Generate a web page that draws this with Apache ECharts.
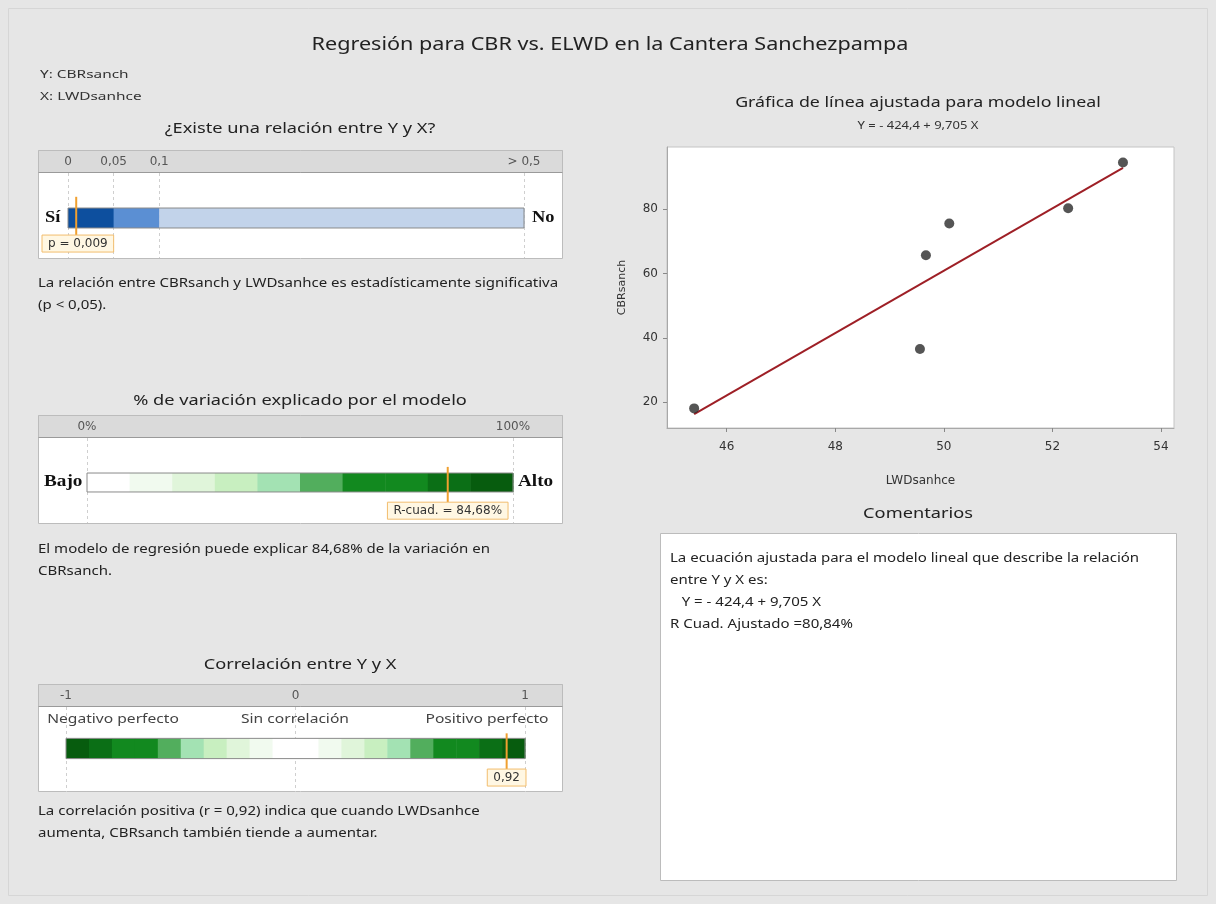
<!DOCTYPE html>
<html><head><meta charset="utf-8">
<script src="https://cdn.jsdelivr.net/npm/echarts@6/dist/echarts.min.js"></script>
<style>html,body{margin:0;padding:0;background:#e6e6e6}#c{width:1216px;height:904px}</style>
</head><body><div id="c"></div>
<script>
// ---------------- data ----------------
const mainTitle = 'Regresión para CBR vs. ELWD en la Cantera Sanchezpampa';
const yVarLabel = 'Y: CBRsanch';
const xVarLabel = 'X: LWDsanhce';

const pTitle = '¿Existe una relación entre Y y X?';
const pTicks = [0, 0.05, 0.1, 0.5];
const pTickLabels = ['0', '0,05', '0,1', '> 0,5'];
const pBandStarts = [0, 0.05, 0.1];
const pBandEnds = [0.05, 0.1, 0.5];
const pBandColors = ['#0d4f9e', '#5b8fd3', '#c2d3ea'];
const pValue = 0.009;
const pValueLabel = 'p = 0,009';
const pEnds = ['Sí', 'No'];
const pText = ['La relación entre CBRsanch y LWDsanhce es estadísticamente significativa', '(p < 0,05).'];

const r2Title = '% de variación explicado por el modelo';
const r2Ticks = [0, 100];
const r2TickLabels = ['0%', '100%'];
const r2BandStarts = [0, 10, 20, 30, 40, 50, 60, 70, 80, 90];
const r2BandEnds = [10, 20, 30, 40, 50, 60, 70, 80, 90, 100];
const greenShades = ['#ffffff', '#f1faef', '#e0f5da', '#c8efc0', '#a3e2b3', '#52ae5d', '#12891f', '#12891f', '#0b6f16', '#075c0e'];
const r2Value = 84.68;
const r2Label = 'R-cuad. = 84,68%';
const r2Ends = ['Bajo', 'Alto'];
const r2Text = ['El modelo de regresión puede explicar 84,68% de la variación en', 'CBRsanch.'];

const rTitle = 'Correlación entre Y y X';
const rTicks = [-1, 0, 1];
const rTickLabels = ['-1', '0', '1'];
const rBandStarts = [-1, -0.9, -0.8, -0.7, -0.6, -0.5, -0.4, -0.3, -0.2, -0.1, 0, 0.1, 0.2, 0.3, 0.4, 0.5, 0.6, 0.7, 0.8, 0.9];
const rBandEnds = [-0.9, -0.8, -0.7, -0.6, -0.5, -0.4, -0.3, -0.2, -0.1, 0, 0.1, 0.2, 0.3, 0.4, 0.5, 0.6, 0.7, 0.8, 0.9, 1];
const rBandColors = greenShades.slice().reverse().concat(greenShades);
const rValue = 0.92;
const rLabel = '0,92';
const rCaptions = ['Negativo perfecto', 'Sin correlación', 'Positivo perfecto'];
const rText = ['La correlación positiva (r = 0,92) indica que cuando LWDsanhce', 'aumenta, CBRsanch también tiende a aumentar.'];

const fitTitle = 'Gráfica de línea ajustada para modelo lineal';
const fitSubtitle = 'Y = - 424,4 + 9,705 X';
const xName = 'LWDsanhce';
const yName = 'CBRsanch';
const xData = [45.4, 49.56, 49.67, 50.1, 52.29, 53.3];
const yData = [18.0, 36.5, 65.7, 75.6, 80.3, 94.6];
const fitX = [45.4, 53.3];
const fitY = [16.2, 92.9];
const xTicks = [46, 48, 50, 52, 54];
const yTicks = [20, 40, 60, 80];

const commentTitle = 'Comentarios';
const commentLines = ['La ecuación ajustada para el modelo lineal que describe la relación', 'entre Y y X es:', '   Y = - 424,4 + 9,705 X', 'R Cuad. Ajustado =80,84%'];

// ---------------- helpers ----------------
const FONT = "'Noto Sans', 'Open Sans', sans-serif";
const WFONT = "'DejaVu Sans', 'Noto Sans', sans-serif";
function pScale(p) { return p <= 0.1 ? p / 0.1 * 0.2 : 0.2 + (Math.min(p, 0.5) - 0.1) / 0.4 * 0.8; }

const chart = echarts.init(document.getElementById('c'), null, { renderer: 'canvas' });

function bandSeries(idx, starts, ends, colors, yLo, yHi) {
  return {
    type: 'custom', xAxisIndex: idx, yAxisIndex: idx, silent: true, z: 3,
    data: starts.map((s, i) => [s, ends[i], i]),
    renderItem: function (params, api) {
      const a = api.coord([api.value(0), yLo]);
      const b = api.coord([api.value(1), yHi]);
      return { type: 'rect', shape: { x: a[0], y: b[1], width: b[0] - a[0] + 0.5, height: a[1] - b[1] },
        style: { fill: colors[api.value(2)] } };
    }
  };
}
function outlineSeries(idx, lo, hi, yLo, yHi) {
  return {
    type: 'custom', xAxisIndex: idx, yAxisIndex: idx, silent: true, z: 4,
    data: [[lo, hi]],
    renderItem: function (params, api) {
      const a = api.coord([api.value(0), yLo]);
      const b = api.coord([api.value(1), yHi]);
      return { type: 'rect', shape: { x: a[0], y: b[1], width: b[0] - a[0], height: a[1] - b[1] },
        style: { fill: null, stroke: '#8a8a8a', lineWidth: 1 } };
    }
  };
}
function markerSeries(idx, value, label, yTop, yBot, minLeft) {
  return {
    type: 'custom', xAxisIndex: idx, yAxisIndex: idx, silent: true, z: 6,
    data: [[value]],
    renderItem: function (params, api) {
      const t = api.coord([api.value(0), yTop]);
      const b = api.coord([api.value(0), yBot]);
      const tx = new echarts.graphic.Text({ style: { text: label, font: '12px ' + WFONT } });
      const w = tx.getBoundingRect().width + 12;
      let lx = t[0] - w / 2;
      if (minLeft != null && lx < minLeft) lx = minLeft;
      return { type: 'group', children: [
        { type: 'line', shape: { x1: t[0], y1: t[1], x2: b[0], y2: b[1] }, style: { stroke: '#f0a030', lineWidth: 2 } },
        { type: 'rect', shape: { x: lx, y: b[1], width: w, height: 17 }, style: { fill: '#fff7e3', stroke: '#f2bd6e', lineWidth: 1 } },
        { type: 'text', style: { x: lx + w / 2, y: b[1] + 9, text: label, align: 'center', verticalAlign: 'middle', font: '12px ' + WFONT, fill: '#333' } }
      ] };
    }
  };
}

function barXAxis(idx, min, max, ticks, labels, transform) {
  const vals = ticks.map(transform);
  return {
    gridIndex: idx, type: 'value', min: min, max: max, position: 'top',
    axisLine: { show: false },
    axisTick: { show: false, customValues: vals },
    axisLabel: { customValues: vals, margin: 5, fontSize: 12, color: '#555', fontFamily: WFONT,
      formatter: v => { const i = vals.findIndex(x => Math.abs(x - v) < 1e-9); return i >= 0 ? labels[i] : ''; } },
    splitLine: { show: true, lineStyle: { color: '#cfcfcf', type: [3, 3], width: 1 } }
  };
}
function barYAxis(idx) { return { gridIndex: idx, type: 'value', min: 0, max: 1, show: false }; }

// text element; position is element-level so that horizontal stretch (sx) scales around the anchor
const txt = (x, y, text, o, sx) => ({ type: 'text', z: 50, x: x, y: y, scaleX: sx || 1.25,
  style: Object.assign({ text: text, font: '12px ' + FONT, fill: '#222', verticalAlign: 'middle' }, o || {}) });
const rect = (x, y, w, h, fill, stroke, z) => ({ type: 'rect', z: z == null ? -5 : z, shape: { x: x, y: y, width: w, height: h }, style: { fill: fill, stroke: stroke, lineWidth: 1 } });
const lineEl = (x1, y1, x2, y2, c, z) => ({ type: 'line', z: z == null ? -4 : z, shape: { x1: x1, y1: y1, x2: x2, y2: y2 }, style: { stroke: c, lineWidth: 1 } });

const boldSerif = { font: 'bold 16px "Liberation Serif", "DejaVu Serif", serif', fill: '#111' };

const graphics = [
  rect(8.5, 8.5, 1199, 887, '#e6e6e6', '#d6d6d6', -20),
  txt(610, 45, mainTitle, { font: '18px ' + FONT, align: 'center', fill: '#222' }, 1.2),
  txt(40, 75, yVarLabel, { font: '11px ' + FONT, fill: '#333' }, 1.4),
  txt(40, 97, xVarLabel, { font: '11px ' + FONT, fill: '#333' }, 1.4),
  // panel 1
  txt(300, 129, pTitle, { font: '14px ' + FONT, align: 'center' }, 1.3),
  rect(38.5, 150.5, 524, 108, '#ffffff', '#bcbcbc'),
  rect(38.5, 150.5, 524, 22, '#dadada', '#bcbcbc', -4),
  lineEl(38.5, 172.5, 562.5, 172.5, '#9a9a9a', -3),
  txt(45, 218, pEnds[0], boldSerif, 1.15),
  txt(532, 218, pEnds[1], boldSerif, 1.15),
  txt(38, 284, pText[0]), txt(38, 306, pText[1]),
  // panel 2
  txt(300, 401, r2Title, { font: '14px ' + FONT, align: 'center' }, 1.3),
  rect(38.5, 415.5, 524, 108, '#ffffff', '#bcbcbc'),
  rect(38.5, 415.5, 524, 22, '#dadada', '#bcbcbc', -4),
  lineEl(38.5, 437.5, 562.5, 437.5, '#9a9a9a', -3),
  txt(44, 482, r2Ends[0], boldSerif, 1.2),
  txt(518, 482, r2Ends[1], boldSerif, 1.2),
  txt(38, 550, r2Text[0]), txt(38, 572, r2Text[1]),
  // panel 3
  txt(300, 665, rTitle, { font: '14px ' + FONT, align: 'center' }, 1.3),
  rect(38.5, 684.5, 524, 107, '#ffffff', '#bcbcbc'),
  rect(38.5, 684.5, 524, 22, '#dadada', '#bcbcbc', -4),
  lineEl(38.5, 706.5, 562.5, 706.5, '#9a9a9a', -3),
  txt(113, 720, rCaptions[0], { align: 'center', fill: '#444' }, 1.3),
  txt(295, 720, rCaptions[1], { align: 'center', fill: '#444' }, 1.3),
  txt(487, 720, rCaptions[2], { align: 'center', fill: '#444' }, 1.3),
  txt(38, 812, rText[0]), txt(38, 834, rText[1]),
  // fitted line plot titles
  txt(918, 103, fitTitle, { font: '14px ' + FONT, align: 'center' }, 1.27),
  txt(918, 126, fitSubtitle, { font: '10px ' + FONT, align: 'center', fill: '#333' }, 1.3),
  // comments
  txt(918, 514, commentTitle, { font: '14px ' + FONT, align: 'center' }, 1.3),
  rect(660.5, 533.5, 516, 347, '#ffffff', '#bcbcbc'),
  ...commentLines.map((l, i) => txt(670, 559 + i * 22, l, { font: '12px ' + FONT, fill: '#222' }, 1.25))
];

const option = {
  backgroundColor: '#e6e6e6',
  animation: false,
  textStyle: { fontFamily: FONT },
  grid: [
    { left: 68, right: 692, top: 173, bottom: 646 },
    { left: 87, right: 703, top: 438, bottom: 381 },
    { left: 66, right: 691, top: 707, bottom: 112 },
    { left: 667, right: 42, top: 147, bottom: 476, show: true, backgroundColor: '#ffffff', borderColor: '#c4c4c4', borderWidth: 1 }
  ],
  xAxis: [
    barXAxis(0, 0, 1, pTicks, pTickLabels, pScale),
    barXAxis(1, 0, 100, r2Ticks, r2TickLabels, v => v),
    barXAxis(2, -1, 1, rTicks, rTickLabels, v => v),
    { gridIndex: 3, type: 'value', min: 44.9, max: 54.24, name: xName, nameLocation: 'middle', nameGap: 47,
      nameTextStyle: { fontSize: 12, color: '#333', fontFamily: WFONT },
      axisLine: { show: true, lineStyle: { color: '#a8a8a8' } },
      axisTick: { show: true, length: 4, customValues: xTicks, lineStyle: { color: '#888' } },
      axisLabel: { customValues: xTicks, fontSize: 12, color: '#333', margin: 13, fontFamily: WFONT },
      splitLine: { show: false } }
  ],
  yAxis: [
    barYAxis(0), barYAxis(1), barYAxis(2),
    { gridIndex: 3, type: 'value', min: 11.9, max: 99.4, name: yName, nameLocation: 'middle', nameGap: 39,
      nameTextStyle: { fontSize: 11, color: '#333', fontFamily: WFONT },
      axisLine: { show: true, lineStyle: { color: '#a8a8a8' } },
      axisTick: { show: true, length: 4, customValues: yTicks, lineStyle: { color: '#888' } },
      axisLabel: { customValues: yTicks, fontSize: 12, color: '#333', margin: 9, fontFamily: WFONT },
      splitLine: { show: false } }
  ],
  series: [
    bandSeries(0, pBandStarts.map(pScale), pBandEnds.map(pScale), pBandColors, 0.353, 0.588),
    outlineSeries(0, 0, 1, 0.353, 0.588),
    markerSeries(0, pScale(pValue), pValueLabel, 0.72, 0.27, 42),
    bandSeries(1, r2BandStarts, r2BandEnds, greenShades, 0.365, 0.588),
    outlineSeries(1, 0, 100, 0.365, 0.588),
    markerSeries(1, r2Value, r2Label, 0.66, 0.245, null),
    bandSeries(2, rBandStarts, rBandEnds, rBandColors, 0.393, 0.631),
    outlineSeries(2, -1, 1, 0.393, 0.631),
    markerSeries(2, rValue, rLabel, 0.69, 0.27, null),
    { type: 'line', xAxisIndex: 3, yAxisIndex: 3, data: fitX.map((x, i) => [x, fitY[i]]), symbol: 'none',
      lineStyle: { color: '#9e1f26', width: 2 }, silent: true, z: 3 },
    { type: 'scatter', xAxisIndex: 3, yAxisIndex: 3, data: xData.map((x, i) => [x, yData[i]]), symbolSize: 10,
      itemStyle: { color: '#2a2a2a' }, silent: true, z: 4 }
  ],
  graphic: { elements: graphics }
};
chart.setOption(option);
</script></body></html>
